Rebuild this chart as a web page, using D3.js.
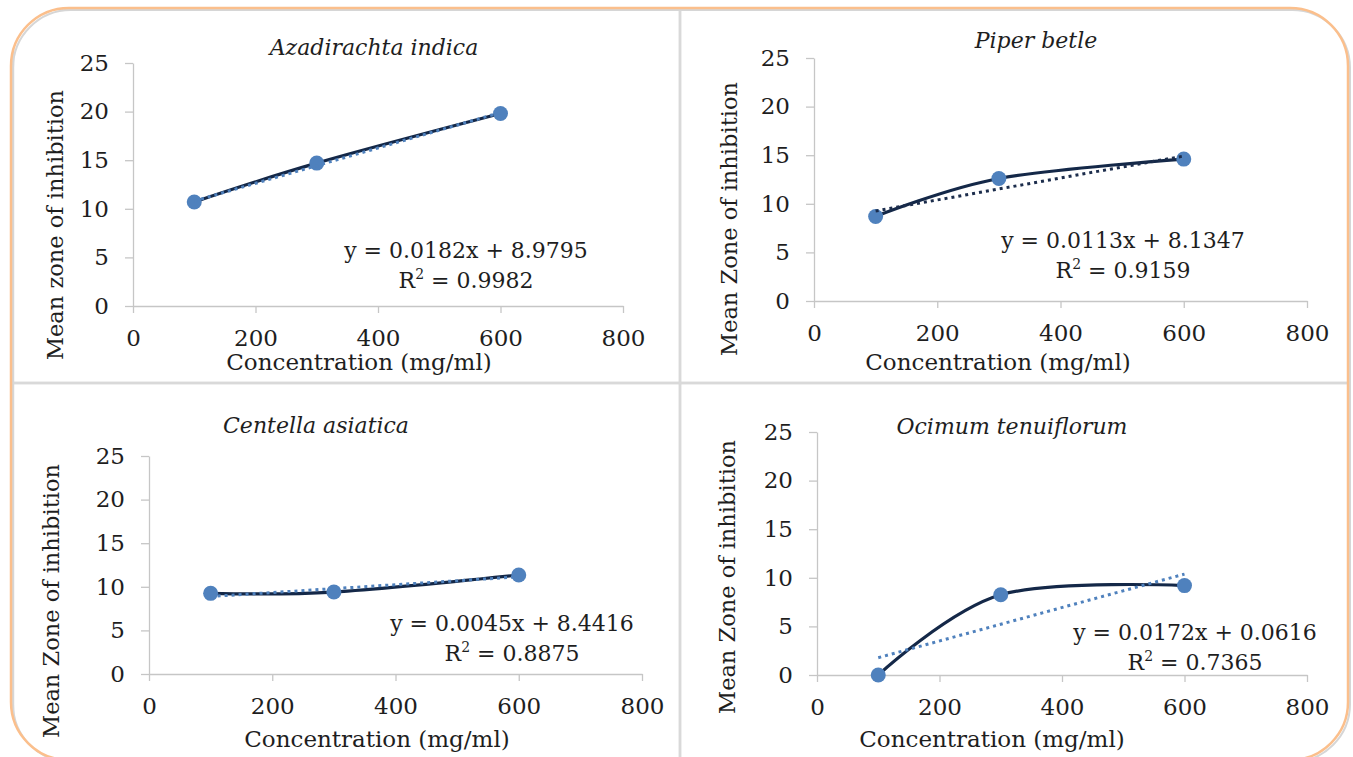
<!DOCTYPE html>
<html>
<head>
<meta charset="utf-8">
<script src="https://cdn.jsdelivr.net/npm/d3@7"></script>
<style>
  body { margin: 0; background: #fff; }
  svg { display: block; }
  .axis path, .axis line { stroke: #c6c6c6; stroke-width: 1.3; }
  .axis text { font-family: "DejaVu Serif", serif; font-size: 23px; fill: #1e1e1e; }
  .lbl { font-family: "DejaVu Serif", serif; fill: #1e1e1e; }
</style>
</head>
<body>
<div class="graph"></div>
<script>
// concentrations tested (mg/ml), same for every plant
var concentrations = [100, 300, 600];

var plants = ['Azadirachta indica', 'Piper betle', 'Centella asiatica', 'Ocimum tenuiflorum'];

// mean zone of inhibition, index matches concentrations
var azadirachtaValues = [10.7, 14.7, 19.8];
var piperValues = [8.7, 12.6, 14.6];
var centellaValues = [9.25, 9.4, 11.35];
var ocimumValues = [0, 8.25, 9.2];

var yTitles = ['Mean zone of inhibition', 'Mean Zone of inhibition', 'Mean Zone of inhibition', 'Mean Zone of inhibition'];
var xTitle = 'Concentration (mg/ml)';

// linear trendlines as printed on the chart
var slopes = [0.0182, 0.0113, 0.0045, 0.0172];
var intercepts = [8.9795, 8.1347, 8.4416, 0.0616];
var slopeLabels = ['0.0182', '0.0113', '0.0045', '0.0172'];
var interceptLabels = ['8.9795', '8.1347', '8.4416', '0.0616'];
var rSquared = ['0.9982', '0.9159', '0.8875', '0.7365'];

var xTicks = [0, 200, 400, 600, 800];
var yTicks = [0, 5, 10, 15, 20, 25];

var series = [azadirachtaValues, piperValues, centellaValues, ocimumValues];

// where each small chart sits on the page
var layout = [
  {left: 133, right: 623, top: 63, bottom: 306, title: [374, 55], eq: [466, 258], xlab: [359, 370], ylab: [55, 225], trend: '#4f81bd'},
  {left: 814, right: 1307, top: 58, bottom: 301, title: [1036, 48], eq: [1123, 248], xlab: [998, 370], ylab: [729, 219], trend: '#1c2d4c'},
  {left: 149, right: 642, top: 456, bottom: 674, title: [316, 433], eq: [512, 631], xlab: [377, 747], ylab: [51, 601], trend: '#4f81bd'},
  {left: 817, right: 1307, top: 432, bottom: 675, title: [1012, 434], eq: [1195, 640], xlab: [992, 747], ylab: [727, 577], trend: '#4f81bd'}
];

var width = 1353, height = 757;

var svg = d3.select('.graph').append('svg')
    .attr('width', width)
    .attr('height', height);

svg.append('clipPath').attr('id', 'frame')
  .append('rect')
    .attr('x', 11).attr('y', 8)
    .attr('width', 1337).attr('height', 752)
    .attr('rx', 58).attr('ry', 58);

// chart area borders
var borders = svg.append('g').attr('clip-path', 'url(#frame)');
[[13, 9, 667, 374], [680, 9, 670, 374], [13, 383, 667, 380], [680, 383, 670, 380]].forEach(function(r) {
  borders.append('rect')
    .attr('x', r[0]).attr('y', r[1])
    .attr('width', r[2]).attr('height', r[3])
    .attr('fill', 'none')
    .attr('stroke', '#d9d9d9')
    .attr('stroke-width', 2.5);
});

// shadow + orange rounded frame
svg.append('rect')
  .attr('x', 13).attr('y', 10)
  .attr('width', 1337).attr('height', 752)
  .attr('rx', 58).attr('ry', 58)
  .attr('fill', 'none')
  .attr('stroke', '#d6d6d6')
  .attr('stroke-width', 2);

svg.append('rect')
  .attr('x', 11).attr('y', 8)
  .attr('width', 1337).attr('height', 752)
  .attr('rx', 58).attr('ry', 58)
  .attr('fill', 'none')
  .attr('stroke', '#fbbf8c')
  .attr('stroke-width', 2.5);

series.forEach(function(values, i) {
  var p = layout[i];
  var g = svg.append('g');

  var x = d3.scaleLinear().domain([0, 800]).range([p.left, p.right]);
  var y = d3.scaleLinear().domain([0, 25]).range([p.bottom, p.top]);

  g.append('g')
      .attr('class', 'axis')
      .attr('transform', 'translate(0,' + p.bottom + ')')
      .call(d3.axisBottom(x).tickValues(xTicks).tickSize(7).tickSizeOuter(0).tickPadding(17));

  g.append('g')
      .attr('class', 'axis')
      .attr('transform', 'translate(' + p.left + ',0)')
      .call(d3.axisLeft(y).tickValues(yTicks).tickSize(8).tickSizeOuter(0).tickPadding(16));

  var pts = concentrations.map(function(c, k) { return [c, values[k]]; });

  var line = d3.line()
      .x(function(d) { return x(d[0]); })
      .y(function(d) { return y(d[1]); })
      .curve(d3.curveCardinal.tension(0));

  g.append('path')
      .datum(pts)
      .attr('d', line)
      .attr('fill', 'none')
      .attr('stroke', '#142848')
      .attr('stroke-width', 3.2)
      .attr('stroke-linecap', 'round');

  g.selectAll('circle')
      .data(pts)
      .enter().append('circle')
      .attr('cx', function(d) { return x(d[0]); })
      .attr('cy', function(d) { return y(d[1]); })
      .attr('r', 7.5)
      .attr('fill', '#4f81bd');

  var x0 = concentrations[0], x1 = concentrations[concentrations.length - 1];
  g.append('line')
      .attr('x1', x(x0)).attr('y1', y(slopes[i] * x0 + intercepts[i]))
      .attr('x2', x(x1)).attr('y2', y(slopes[i] * x1 + intercepts[i]))
      .attr('stroke', p.trend)
      .attr('stroke-width', 3)
      .attr('stroke-dasharray', '3,4');

  g.append('text')
      .attr('class', 'lbl')
      .attr('x', p.title[0]).attr('y', p.title[1])
      .attr('text-anchor', 'middle')
      .style('font-size', '22px')
      .style('font-style', 'italic')
      .text(plants[i]);

  g.append('text')
      .attr('class', 'lbl')
      .attr('x', p.xlab[0]).attr('y', p.xlab[1])
      .attr('text-anchor', 'middle')
      .style('font-size', '23px')
      .text(xTitle);

  g.append('text')
      .attr('class', 'lbl')
      .attr('transform', 'translate(' + p.ylab[0] + ',' + p.ylab[1] + ') rotate(-90)')
      .attr('text-anchor', 'middle')
      .attr('dy', '0.35em')
      .style('font-size', '22.5px')
      .text(yTitles[i]);

  g.append('text')
      .attr('class', 'lbl')
      .attr('x', p.eq[0]).attr('y', p.eq[1])
      .attr('text-anchor', 'middle')
      .style('font-size', '22px')
      .text('y = ' + slopeLabels[i] + 'x + ' + interceptLabels[i]);

  var r2 = g.append('text')
      .attr('class', 'lbl')
      .attr('x', p.eq[0]).attr('y', p.eq[1] + 30)
      .attr('text-anchor', 'middle')
      .style('font-size', '22px');
  r2.append('tspan').text('R');
  r2.append('tspan').attr('dy', -9).style('font-size', '14px').text('2');
  r2.append('tspan').attr('dy', 9).text(' = ' + rSquared[i]);
});
</script>
</body>
</html>
